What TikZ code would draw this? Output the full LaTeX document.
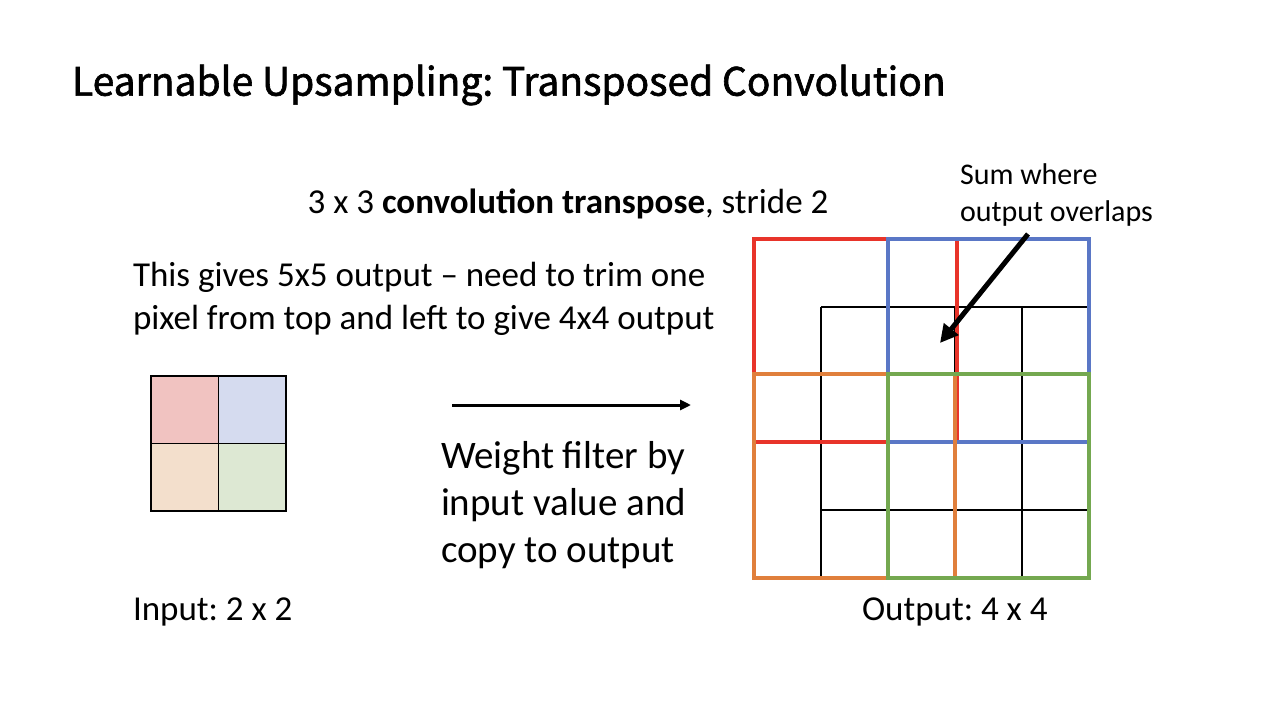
\documentclass[tikz,border=0pt]{standalone}
\usepackage{fontspec}
\setmainfont{Carlito}
\newfontfamily\titlefont[FakeBold=1.6]{Noto Sans CJK KR}
\usetikzlibrary{arrows.meta}
\definecolor{cred}{HTML}{E8342A}
\definecolor{cblue}{HTML}{5A77C6}
\definecolor{corange}{HTML}{E07F3C}
\definecolor{cgreen}{HTML}{74A850}
\definecolor{fred}{HTML}{F1C3C1}
\definecolor{fblue}{HTML}{D5DBEF}
\definecolor{forange}{HTML}{F3DFCC}
\definecolor{fgreen}{HTML}{DDE8D3}
\begin{document}
\frenchspacing
\begin{tikzpicture}[x=1pt,y=-1pt,
  txt/.style={inner sep=0pt,outer sep=0pt},
  gridline/.style={line width=1.3pt,black},
  sq/.style={line width=3.4pt},
  incell/.style={draw=black,line width=1.5pt,minimum width=67.5pt,minimum height=67.5pt,inner sep=0pt,anchor=north west}]
\useasboundingbox (0,0) rectangle (1280,720);
\fill[white] (0,0) rectangle (1280,720);
% title
\node[txt,anchor=west,font=\titlefont\fontsize{39}{47}\selectfont] (title) at (72,85) {Learnable Upsampling: Transposed Convolution};
% subtitle
\node[txt,font=\fontsize{35}{42}\selectfont] (conv) at (568,204) {3 x 3 \textbf{convolution transpose}, stride 2};
% paragraph
\node[txt,anchor=west,align=left,font=\fontsize{35}{43}\selectfont] (para) at (133,299) {This gives 5x5 output -- need to trim one\\pixel from top and left to give 4x4 output};
% weight text
\node[txt,anchor=west,align=left,font=\fontsize{39}{47}\selectfont] (weight) at (441,505) {Weight filter by\\input value and\\copy to output};
% labels
\node[txt,anchor=west,font=\fontsize{35}{42}\selectfont] (inlab) at (133,612) {Input: 2 x 2};
\node[txt,anchor=west,font=\fontsize{35}{42}\selectfont] (outlab) at (862,612) {Output: 4 x 4};
\node[txt,anchor=west,align=left,font=\fontsize{30}{36}\selectfont] (sum) at (960,195) {Sum where\\output overlaps};
% input grid
\node[incell,fill=fred] (i11) at (150,375) {};
\node[incell,fill=fblue] (i12) at (217.5,375) {};
\node[incell,fill=forange] (i21) at (150,442.5) {};
\node[incell,fill=fgreen] (i22) at (217.5,442.5) {};
% main arrow
\coordinate (a1) at (452,405);
\coordinate (a2) at (691,405);
\draw[line width=3pt,-{Triangle[length=11pt,width=10pt]}] (a1) -- (a2);
% output thin grid (4x4)
\foreach \x in {821,888,955,1022,1089} \draw[gridline] (\x,307) -- (\x,578);
\foreach \y in {307,374,442,510,578} \draw[gridline] (821,\y) -- (1089,\y);
% coloured filters
\draw[sq,cred] (754,239) rectangle (957,442);
\draw[sq,cblue] (888,239) rectangle (1089,442);
\draw[sq,corange] (754,374) rectangle (955,578);
\draw[sq,cgreen] (888,374) rectangle (1089,578);
% sum arrow
\coordinate (s1) at (1028,234);
\coordinate (s2) at (940,343);
\draw[line width=5pt,-{Triangle[length=18pt,width=18pt]}] (s1) -- (s2);
\end{tikzpicture}
\end{document}
